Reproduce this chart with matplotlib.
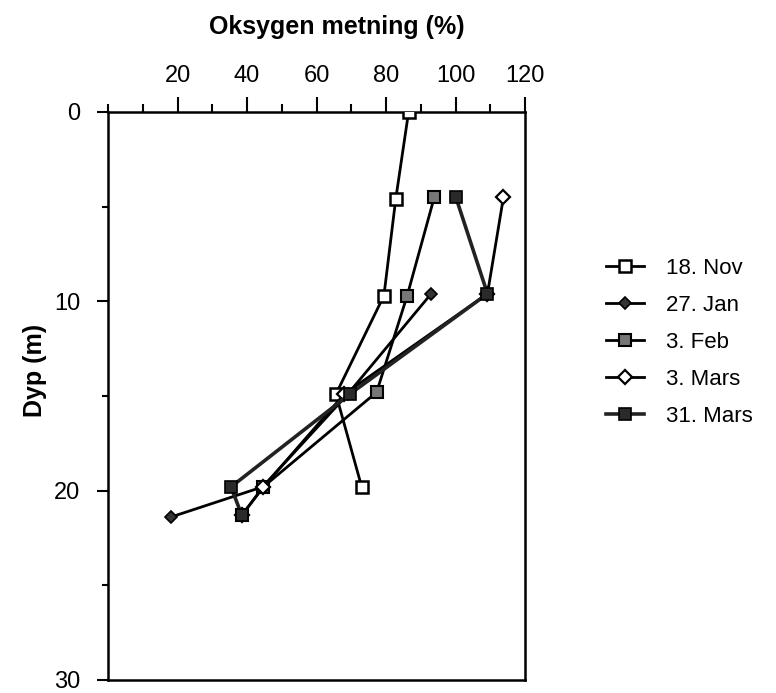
import matplotlib.pyplot as plt
from matplotlib.ticker import MultipleLocator, FixedLocator

plt.rcParams['font.family'] = ['Liberation Sans Narrow', 'Liberation Sans', 'DejaVu Sans']

# oxygen saturation (%) and depth (m) for each sampling date
labels = ["18. Nov", "27. Jan", "3. Feb", "3. Mars", "31. Mars"]

nov_depth = [0, 4.6, 9.7, 14.9, 19.8]
nov_oxy = [86.5, 82.8, 79.4, 65.6, 73.0]

jan_depth = [9.6, 14.9, 19.8, 21.4]
jan_oxy = [93.0, 69.0, 44.5, 18.0]

feb_depth = [4.5, 9.7, 14.8, 19.8, 21.3]
feb_oxy = [93.9, 86.1, 77.3, 44.7, 38.5]

mar3_depth = [4.5, 9.6, 14.9, 19.8, 21.3]
mar3_oxy = [113.8, 109.2, 68.0, 44.7, 38.5]

mar31_depth = [4.5, 9.6, 14.9, 19.8, 21.3]
mar31_oxy = [100.1, 109.2, 69.6, 35.4, 38.5]

x_ticks = [20, 40, 60, 80, 100, 120]


def main():
    fig = plt.figure(figsize=(7.76, 6.93), dpi=100)
    ax = fig.add_axes([108 / 776, 1 - 680 / 693, (525 - 108) / 776, (680 - 112) / 693])

    lw = 2.0
    ax.plot(nov_oxy, nov_depth, color='black', lw=lw, marker='s', ms=8,
            mfc='white', mec='black', mew=1.8, label=labels[0], zorder=3)
    ax.plot(jan_oxy, jan_depth, color='black', lw=lw, marker='D', ms=6.5,
            mfc='#333333', mec='black', mew=1.2, label=labels[1], zorder=3)
    ax.plot(feb_oxy, feb_depth, color='black', lw=lw, marker='s', ms=8,
            mfc='#777777', mec='black', mew=1.5, label=labels[2], zorder=3)
    ax.plot(mar3_oxy, mar3_depth, color='black', lw=lw, marker='D', ms=7,
            mfc='white', mec='black', mew=1.6, label=labels[3], zorder=3)
    ax.plot(mar31_oxy, mar31_depth, color='#222222', lw=2.6, marker='s', ms=8,
            mfc='#2a2a2a', mec='black', mew=1.2, label=labels[4], zorder=3)

    ax.set_xlim(0, 120)
    ax.set_ylim(30, 0)

    # x axis on top like the original
    ax.xaxis.tick_top()
    ax.xaxis.set_label_position('top')
    ax.xaxis.set_major_locator(FixedLocator(x_ticks))
    ax.xaxis.set_minor_locator(MultipleLocator(10))
    ax.yaxis.set_major_locator(MultipleLocator(10))
    ax.yaxis.set_minor_locator(MultipleLocator(5))

    ax.tick_params(axis='x', which='major', length=11, width=1.5, labelsize=17, pad=7)
    ax.tick_params(axis='x', which='minor', length=6, width=1.5)
    ax.tick_params(axis='y', which='major', length=8, width=1.5, labelsize=17, pad=12)
    ax.tick_params(axis='y', which='minor', length=4, width=1.5)

    for s in ax.spines.values():
        s.set_linewidth(1.8)

    fig.text(337 / 776, 1 - 27 / 693, "Oksygen metning (%)", ha='center', va='center',
             fontsize=18, fontweight='bold')
    fig.text(35 / 776, 1 - 370 / 693, "Dyp (m)", ha='center', va='center',
             rotation=90, fontsize=18, fontweight='bold')

    fig.legend(loc='upper left', bbox_to_anchor=(586 / 776, 1 - 238 / 693),
               frameon=False, fontsize=16, handlelength=1.7, handletextpad=1.0,
               labelspacing=0.72)

    fig.savefig("out.png", dpi=100)


if __name__ == "__main__":
    main()
